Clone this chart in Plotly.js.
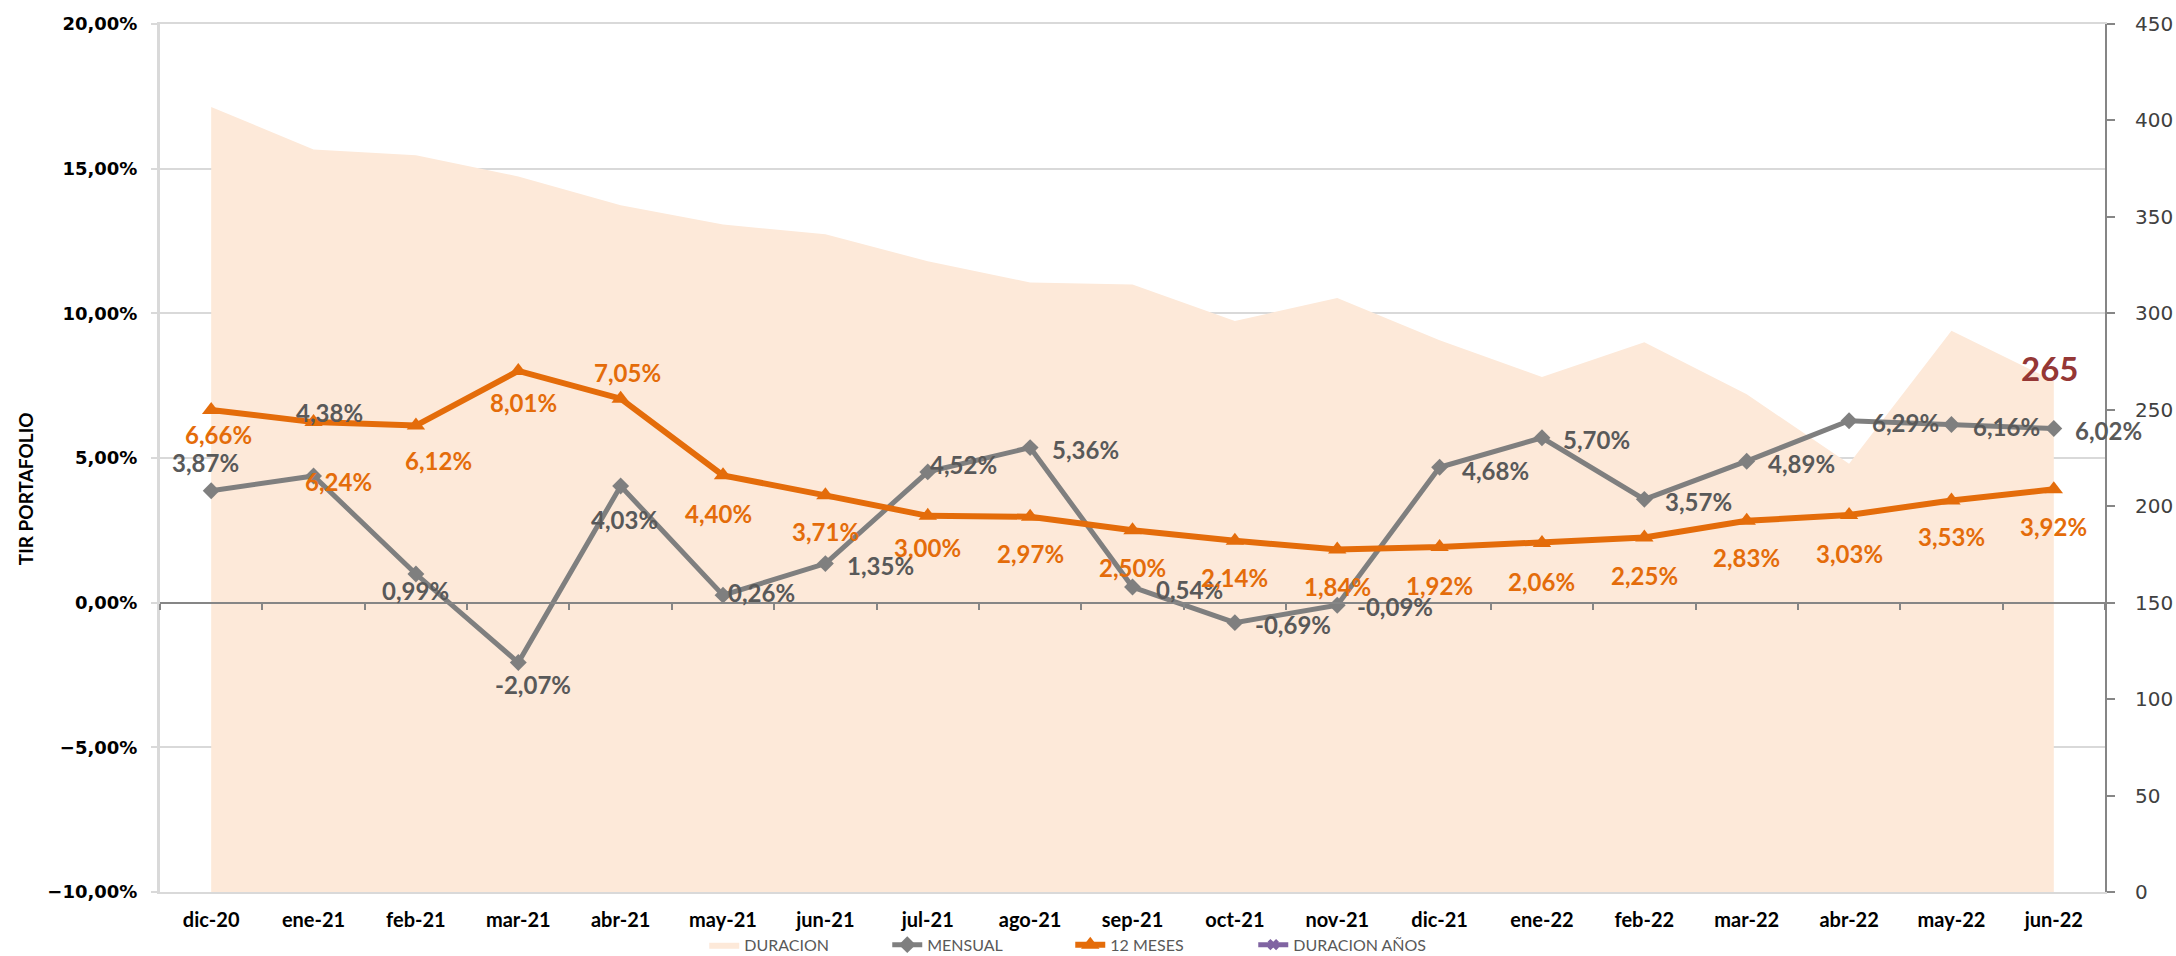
<!DOCTYPE html>
<html>
<head>
<meta charset="utf-8">
<script src="https://cdn.plot.ly/plotly-3.0.1.min.js"></script>
<style>html,body{margin:0;padding:0;background:#fff;}#chart{width:2176px;height:956px;}</style>
</head>
<body>
<div id="chart"></div>
<script>
// ---- data ----
const categorias = ['dic-20','ene-21','feb-21','mar-21','abr-21','may-21','jun-21','jul-21','ago-21','sep-21','oct-21','nov-21','dic-21','ene-22','feb-22','mar-22','abr-22','may-22','jun-22'];
const duracion = [407, 385, 382, 371, 356, 346, 341, 327, 316, 315, 296, 308, 286, 267, 285, 258, 222, 291, 265];
const mensual = [3.87, 4.38, 0.99, -2.07, 4.03, 0.26, 1.35, 4.52, 5.36, 0.54, -0.69, -0.09, 4.68, 5.70, 3.57, 4.89, 6.29, 6.16, 6.02];
const doceMeses = [6.66, 6.24, 6.12, 8.01, 7.05, 4.40, 3.71, 3.00, 2.97, 2.50, 2.14, 1.84, 1.92, 2.06, 2.25, 2.83, 3.03, 3.53, 3.92];
const duracionAnios = categorias.map(() => null);
const nombres = ['DURACION', 'MENSUAL', '12 MESES', 'DURACION AÑOS'];
const tituloY = 'TIR PORTAFOLIO';

// ---- label placement (pixel offsets: dx right, dy down) ----
const offMensual = [[-6,-28],[16,-63],[0,16],[15,22],[4,33],[38,-3],[55,2],[36,-7],[55,2],[57,2],[58,2],[58,1],[56,3],[55,2],[54,2],[55,2],[56,2],[55,2],[55,2]];
const offDoce = [[7,25],[25,59],[23,35],[5,32],[7,-26],[-5,38],[0,36],[0,32],[0,37],[0,37],[0,37],[0,37],[0,38],[0,38],[0,38],[0,37],[0,38],[0,36],[0,37]];

const yMin = -10, yMax = 20;
const fmt = v => v.toFixed(2).replace('.', ',') + '%';

const traces = [
  {
    name: nombres[0], x: categorias, y: duracion, type: 'scatter', mode: 'lines',
    fill: 'tozeroy', fillcolor: '#FDE9D9', line: {width: 0, color: '#FDE9D9'},
    xaxis: 'x', yaxis: 'y', hoverinfo: 'skip'
  },
  {
    name: nombres[1], x: categorias, y: mensual, type: 'scatter', mode: 'lines+markers',
    line: {color: '#7F7F7F', width: 5}, marker: {symbol: 'diamond', size: 13, color: '#7F7F7F'},
    xaxis: 'x', yaxis: 'y2'
  },
  {
    name: nombres[2], x: categorias, y: doceMeses, type: 'scatter', mode: 'lines+markers',
    line: {color: '#E46C0A', width: 6}, marker: {symbol: 'triangle-up', size: 16, color: '#E46C0A'},
    xaxis: 'x', yaxis: 'y2'
  },
  {
    name: nombres[3], x: categorias, y: duracionAnios, type: 'scatter', mode: 'lines+markers',
    line: {color: '#8064A2', width: 5}, marker: {symbol: 'x', size: 10, color: '#8064A2'},
    xaxis: 'x', yaxis: 'y2'
  },
  {
    x: [], y: [], type: 'scatter', mode: 'lines', xaxis: 'x2', yaxis: 'y2',
    showlegend: false, hoverinfo: 'skip'
  }
];

const labelFont = 'Lato';
const annotations = [];
mensual.forEach((v, i) => {
  annotations.push({
    x: categorias[i], y: v, xref: 'x', yref: 'y2', text: fmt(v), showarrow: false,
    xanchor: 'center', yanchor: 'middle', xshift: offMensual[i][0], yshift: -offMensual[i][1],
    font: {family: labelFont, size: 24, color: '#595959', weight: 'bold'}
  });
});
doceMeses.forEach((v, i) => {
  annotations.push({
    x: categorias[i], y: v, xref: 'x', yref: 'y2', text: fmt(v), showarrow: false,
    xanchor: 'center', yanchor: 'middle', xshift: offDoce[i][0], yshift: -offDoce[i][1],
    font: {family: labelFont, size: 24, color: '#E46C0A', weight: 'bold'}
  });
});
const last = duracion.length - 1;
annotations.push({
  x: categorias[last], y: duracion[last], xref: 'x', yref: 'y', text: String(duracion[last]),
  showarrow: false, xanchor: 'center', yanchor: 'middle', xshift: -4, yshift: 13,
  font: {family: 'Lato', size: 33, color: '#953735', weight: 'bold'}
});
// y-axis title (placed like the original, slightly below the axis middle)
annotations.push({
  xref: 'paper', yref: 'paper', x: -0.0694, y: 0.464, text: tituloY, textangle: -90,
  showarrow: false, xanchor: 'center', yanchor: 'middle',
  font: {family: 'Lato', size: 19, color: '#000000', weight: 'bold'}
});

const layout = {
  width: 2176, height: 956,
  margin: {l: 160, r: 71, t: 24, b: 64, autoexpand: false},
  paper_bgcolor: '#ffffff', plot_bgcolor: 'rgba(0,0,0,0)',
  separators: ',.',
  showlegend: true,
  legend: {
    orientation: 'h', x: 0.468, xanchor: 'center', y: -0.0608, yanchor: 'middle',
    font: {family: 'Lato', size: 16, color: '#595959'},
    entrywidth: 138, bgcolor: 'rgba(0,0,0,0)'
  },
  xaxis: {
    type: 'category', range: [-0.5, 18.5], showgrid: false, zeroline: false,
    showline: true, linecolor: '#D9D9D9', linewidth: 2, mirror: true, ticks: '',
    tickfont: {family: 'Lato', size: 20, color: '#000000', weight: 'bold'}, ticklabelstandoff: 9
  },
  xaxis2: {
    overlaying: 'x', anchor: 'free', position: (0 - yMin) / (yMax - yMin),
    range: [-0.5, 18.5], type: 'linear', tick0: -0.5, dtick: 1, ticks: 'outside', ticklen: 6,
    tickcolor: '#868686', tickwidth: 2, showline: true, linecolor: '#868686', linewidth: 2,
    showticklabels: false, showgrid: false, zeroline: false
  },
  yaxis: {
    side: 'right', anchor: 'x', range: [0, 450], dtick: 50, showgrid: false, zeroline: false,
    showline: true, linecolor: '#868686', linewidth: 2, ticks: 'outside', ticklen: 8,
    tickcolor: '#868686', tickwidth: 2,
    tickfont: {family: 'DejaVu Sans', size: 20, color: '#404040'}, ticklabelstandoff: 16
  },
  yaxis2: {
    overlaying: 'y', side: 'left', anchor: 'x', range: [yMin, yMax], dtick: 5,
    tickformat: '.2f', ticksuffix: '%', showgrid: true, gridcolor: '#D9D9D9', gridwidth: 2,
    zeroline: false, showline: true, linecolor: '#D9D9D9', linewidth: 3,
    ticks: 'outside', ticklen: 6, tickcolor: '#D9D9D9', tickwidth: 2,
    tickfont: {family: 'DejaVu Sans', size: 18, color: '#000000', weight: 'bold'}, ticklabelstandoff: 10
  },
  annotations: annotations
};

Plotly.newPlot('chart', traces, layout, {displayModeBar: false, staticPlot: true});
</script>
</body>
</html>
